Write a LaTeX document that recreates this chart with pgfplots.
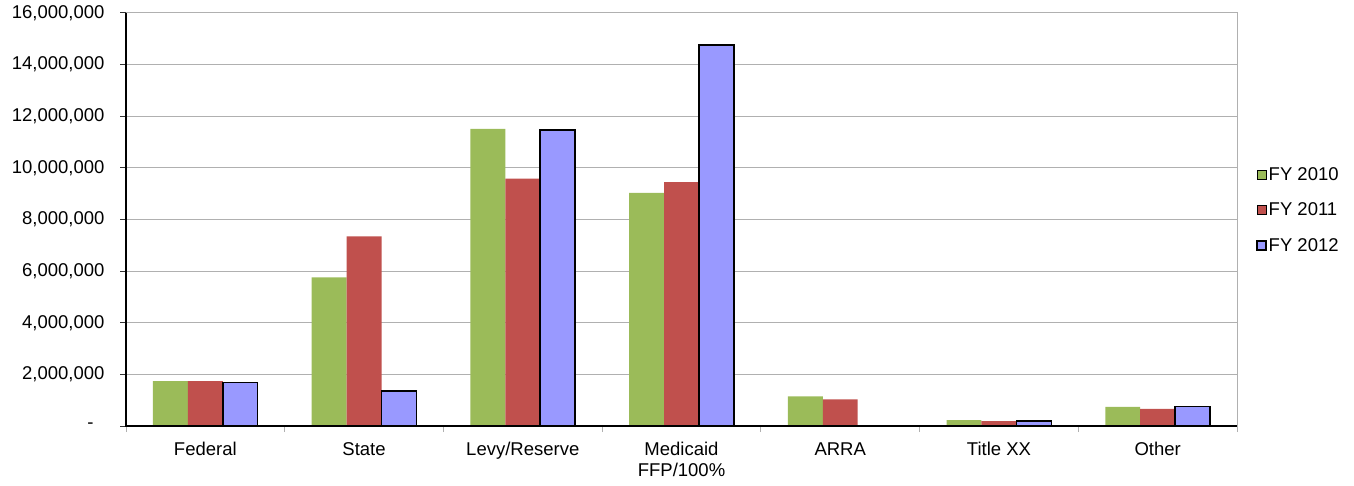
\documentclass[border=0pt]{standalone}
\usepackage{fontspec}
\setmainfont{Liberation Sans}
\usepackage{pgfplots}
\pgfplotsset{compat=1.18}
\definecolor{g10}{HTML}{9BBB59}
\definecolor{r11}{HTML}{C0504D}
\definecolor{b12}{HTML}{9999FF}
\definecolor{gridc}{HTML}{B0B0B0}
\newcommand{\lf}{\fontsize{18.5}{21}\selectfont}
\begin{document}
\begin{tikzpicture}
\begin{axis}[name=ax, at={(0,0)}, anchor=south west,
  scale only axis, width=1111pt, height=413pt,
  ybar, bar width=0.22,
  xmin=-0.5, xmax=6.5, ymin=0, ymax=16,
  xtick={-0.5,0.5,...,6.5}, xticklabels={{},{},{},{},{},{},{},{}},
  extra x ticks={0,1,2,3,4,5,6},
  extra x tick labels={Federal,State,Levy/Reserve,{Medicaid\\FFP/100\%},ARRA,Title XX,Other},
  extra x tick style={major tick length=0pt, grid=none,
     xticklabel style={align=center, font=\lf, yshift=-13pt}},
  xtick pos=bottom, ytick pos=left,
  tick align=outside, major tick length=6pt,
  x tick style={gridc, line width=1pt},
  y tick style={black!80, line width=1pt},
  ytick={0,2,...,16},
  yticklabels={{\hbox{-\kern11pt}},{2,000,000},{4,000,000},{6,000,000},{8,000,000},{10,000,000},{12,000,000},{14,000,000},{16,000,000}},
  yticklabel style={font=\lf, xshift=-12pt},
  ymajorgrids, grid style={gridc, line width=1pt},
  axis line style={gridc, line width=1pt},
  legend style={at={(1,0.523)}, anchor=west, xshift=16pt, draw=none, fill=none,
     font=\lf, row sep=17pt, nodes={inner xsep=2pt}},
  legend cell align=left,
  legend image code/.code={\draw[#1] (0pt,-4.5pt) rectangle (9pt,4.5pt);},
]
\addplot[fill=g10, draw=none, bar shift=-0.22] coordinates {(0,1.74) (1,5.76) (2,11.51) (3,9.03) (4,1.15) (5,0.23) (6,0.74)};
\addplot[fill=r11, draw=none, bar shift=0] coordinates {(0,1.74) (1,7.35) (2,9.58) (3,9.45) (4,1.03) (5,0.19) (6,0.66)};
\addplot[fill=b12, draw=black, line width=1.5pt, bar shift=0.22] coordinates {(0,1.68) (1,1.36) (2,11.46) (3,14.77) (5,0.20) (6,0.75)};
\legend{FY 2010, FY 2011, FY 2012}
\end{axis}
\draw[black, line width=1.3pt] (ax.north west) -- (ax.south west) -- (ax.south east);
\pgfresetboundingbox
\path ([shift={(-126pt,-59pt)}]ax.south west) rectangle ([shift={(117pt,13pt)}]ax.north east);
\end{tikzpicture}
\end{document}
